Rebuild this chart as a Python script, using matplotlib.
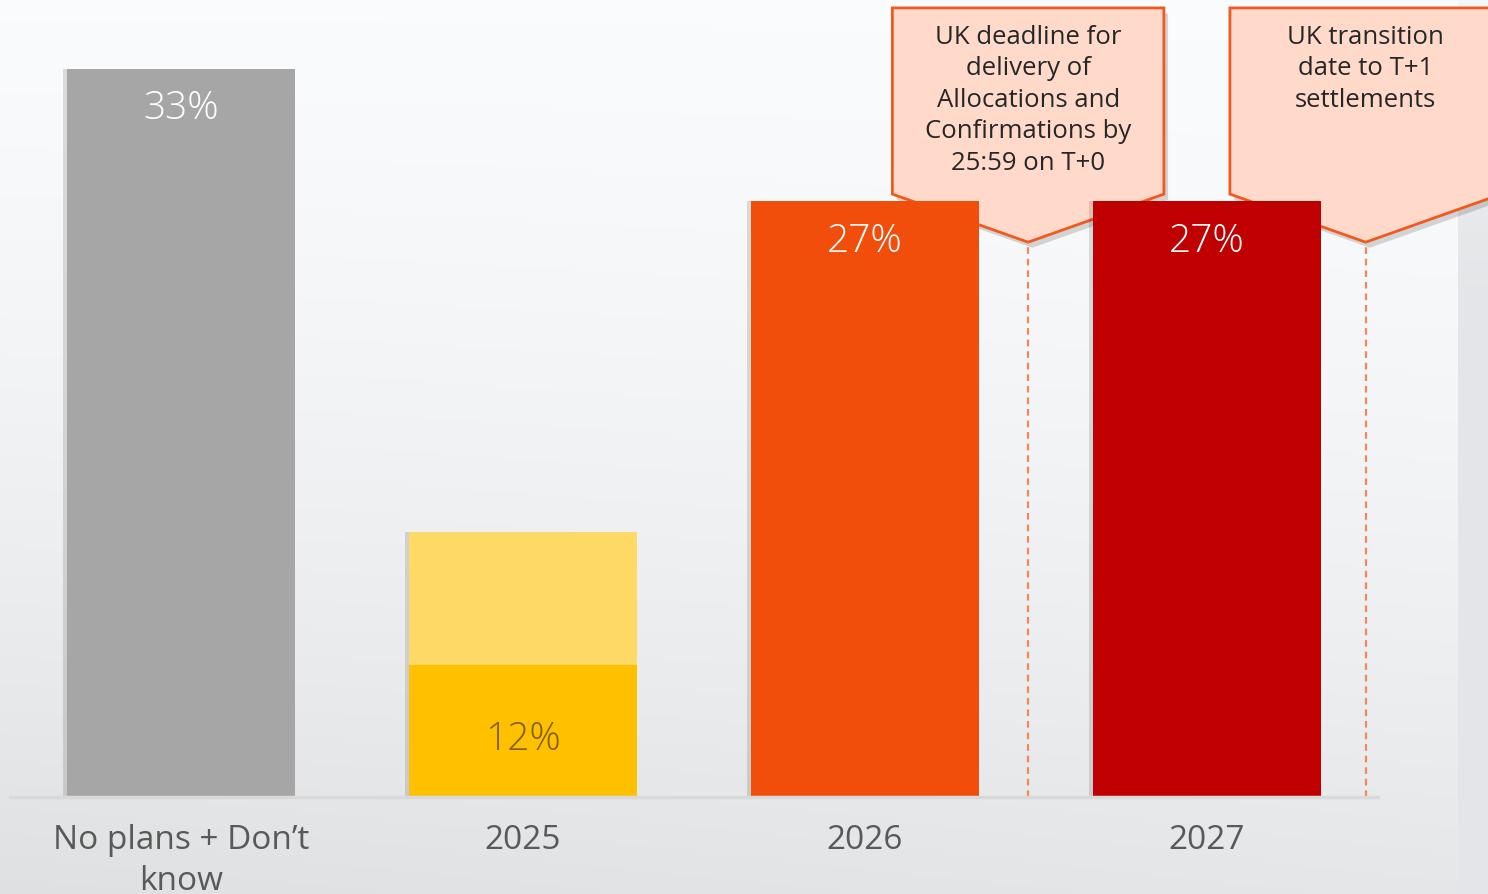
import numpy as np
import matplotlib.pyplot as plt
from matplotlib.patches import Polygon
import matplotlib.patheffects as pe

plt.rcParams['font.family'] = ['Open Sans', 'DejaVu Sans']

categories = ['No plans + Don\u2019t\nknow', '2025', '2026', '2027']
totals = [33, 12, 27, 27]
# 2025 is split into a darker lower part and a lighter upper part
lower_2025 = 6
upper_2025 = 6
bar_colors = ['#A6A6A6', '#FFC000', '#F04E0A', '#C00000']
label_colors = ['white', '#7F6000', 'white', 'white']

callout_texts = ['UK deadline for\ndelivery of\nAllocations and\nConfirmations by\n25:59 on T+0',
                 'UK transition\ndate to T+1\nsettlements']
callout_tips = [2.477, 3.464]

W, H = 1488, 895
fig = plt.figure(figsize=(W / 100, H / 100), dpi=100)

# soft grey background, lighter towards the top
bg = fig.add_axes([0, 0, 1, 1])
yy, xx = np.mgrid[0:1:200j, 0:1:300j]
shade = 0.99 - 0.08 * yy ** 1.6 - 0.025 * (1 - xx) * yy
img = np.dstack([shade - 0.01, shade - 0.005, shade])
bg.imshow(img, extent=[0, 1, 0, 1], aspect='auto', origin='upper')
strip_x = 1458 / W
sy = np.linspace(0, 1, 200)[:, None]
strip = 0.98 - 0.07 * np.clip(sy * 3, 0, 1) ** 0.6
bg.imshow(np.dstack([strip - 0.015, strip - 0.01, strip]), extent=[strip_x, 1, 0, 1],
          aspect='auto', origin='upper')
bg.set_xlim(0, 1)
bg.set_ylim(0, 1)
bg.axis('off')

ax = fig.add_axes([10 / W, 97 / H, 1368 / W, 798 / H])
ax.set_facecolor('none')
x = np.arange(len(categories))
width = 0.665

shadow = [pe.SimplePatchShadow(offset=(-3, 0), shadow_rgbFace='black', alpha=0.12), pe.Normal()]

# callouts sit behind the bars
for tip, txt in zip(callout_tips, callout_texts):
    left, right = tip - 0.397, tip + 0.397
    top, side, point = 35.77, 27.33, 25.15
    poly = Polygon([(left, top), (right, top), (right, side), (tip, point), (left, side)],
                   closed=True, facecolor='#FFDACB', edgecolor='#F05A1E', linewidth=2,
                   zorder=1, clip_on=False,
                   path_effects=[pe.SimplePatchShadow(offset=(3, -4), shadow_rgbFace='black', alpha=0.15),
                                 pe.Normal()])
    ax.add_patch(poly)
    ax.plot([tip, tip], [0, point], color='#F4875A', linewidth=1.6, linestyle=(0, (3, 2.2)),
            zorder=1, clip_on=False)
    ax.text(tip, 35.05, txt, ha='center', va='top', fontsize=18.5, color='#262626',
            linespacing=1.34, zorder=2, clip_on=False)

for i in range(len(categories)):
    if categories[i] == '2025':
        ax.bar(x[i], lower_2025, width, color='#FFC000', zorder=3, path_effects=shadow)
        ax.bar(x[i], upper_2025, width, bottom=lower_2025, color='#FFD966', zorder=3,
               path_effects=shadow)
        ax.annotate(f'{totals[i]}%', (x[i], lower_2025 / 2), xytext=(0, -8),
                    textcoords='offset pixels', ha='center', va='center',
                    fontsize=28, fontweight='light', color=label_colors[i], zorder=4)
    else:
        ax.bar(x[i], totals[i], width, color=bar_colors[i], zorder=3, path_effects=shadow)
        ax.annotate(f'{totals[i]}%', (x[i], totals[i]), xytext=(0, -39),
                    textcoords='offset pixels', ha='center', va='center',
                    fontsize=28, fontweight='light', color=label_colors[i], zorder=4)

ax.set_xlim(-0.5, 3.5)
ax.set_ylim(0, 798 / 22.06)
ax.set_yticks([])
ax.set_xticks(x)
ax.set_xticklabels(categories, fontsize=24, color='#595959', linespacing=1.3)
ax.tick_params(axis='x', length=0, pad=19)
for s in ['top', 'right', 'left']:
    ax.spines[s].set_visible(False)
ax.spines['bottom'].set_color('#D9D9D9')
ax.spines['bottom'].set_linewidth(2.5)
ax.spines['bottom'].set_zorder(5)

fig.savefig('out.png', dpi=100)
